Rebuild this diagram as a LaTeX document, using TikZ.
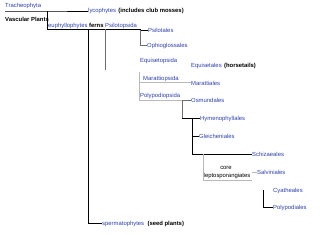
\documentclass[tikz,border=0pt]{standalone}
\usepackage{fontspec}
\setmainfont{Liberation Sans}
\definecolor{lnk}{RGB}{45,65,170}
\definecolor{lgray}{RGB}{185,185,185}
\definecolor{mgray}{RGB}{110,110,110}
\begin{document}
\begin{tikzpicture}[x=1pt,y=-1pt,
  every node/.style={inner sep=0pt, anchor=base west, font=\fontsize{5.9}{7}\selectfont},
  bl/.style={text=lnk}, bk/.style={text=black}, bb/.style={text=black, font=\fontsize{5.9}{7}\selectfont\bfseries},
  dk/.style={draw=black, line width=0.6pt},
  md/.style={draw=mgray, line width=0.6pt},
  gr/.style={draw=lgray, line width=0.6pt}]
\useasboundingbox[fill=white] (0,0) rectangle (320,234);
% texts
\node[bl] (trach) at (5,7.3) {Tracheophyta};
\node[bl] (lyco) at (88,12.3) {lycophytes};
\node[bb] (club) at ([xshift=2pt]lyco.base east) {(includes club mosses)};
\node[bb] (vasc) at (5,21.3) {Vascular Plants};
\node[bl] (euph) at (48,27.3) {euphyllophytes};
\node[bb] (ferns) at (89,27.3) {ferns};
\node[bl] (psid) at (105,27.3) {Psilotopsida};
\node[bl] (psil) at (148,32.3) {Psilotales};
\node[bl] (ophi) at (147,47.3) {Ophioglossales};
\node[bl] (equid) at (140,62.3) {Equisetopsida};
\node[bl] (equi) at (191,67.3) {Equisetales};
\node[bb] (hors) at ([xshift=2pt]equi.base east) {(horsetails)};
\node[bl] (marad) at (143,80.3) {Marattiopsida};
\node[bl] (mara) at (191,85.3) {Marattiales};
\node[bl] (polyd) at (140,97.3) {Polypodiopsida};
\node[bl] (osmu) at (191,102.3) {Osmundales};
\node[bl] (hyme) at (200,120.3) {Hymenophyllales};
\node[bl] (glei) at (199,138.3) {Gleicheniales};
\node[bl] (schi) at (252,156.3) {Schizaeales};
\node[bk, anchor=base] (core) at (226,169.3) {core};
\node[bk, anchor=base] (lept) at (227,177.3) {leptosporangiates};
\node[bl] (salv) at (257,174.3) {Salviniales};
\node[bl] (cyat) at (273,192.3) {Cyatheales};
\node[bl] (poly) at (273,209.3) {Polypodiales};
\node[bl] (sper) at (102,225.3) {spermatophytes};
\node[bb] (seed) at ([xshift=3pt]sper.base east) {(seed plants)};
% junctions
\coordinate (a0) at (5,11);
\coordinate (a1) at (47,11);
\coordinate (a2) at (47,29);
\coordinate (b0) at (88,29);
\coordinate (b1) at (88,223);
\coordinate (c0) at (105,29);
\coordinate (c1) at (105,70);
\coordinate (d0) at (140,30);
\coordinate (d1) at (140,45);
\coordinate (e0) at (139,72);
\coordinate (e1) at (139,82);
\coordinate (e2) at (139,100);
\coordinate (f0) at (182,100);
\coordinate (f1) at (182,118);
\coordinate (g0) at (192,118);
\coordinate (g1) at (192,136);
\coordinate (g2) at (192,154);
\coordinate (h0) at (203,154);
\coordinate (h1) at (203,180);
\coordinate (h2) at (252,180);
\coordinate (i0) at (263,190);
\coordinate (i1) at (263,207);
% connectors
\draw[dk] (a0) -- (a1) -- (lyco.west |- a1);
\draw[dk] (a1) -- (a2) -- (d0 |- a2) -- (d0) -- (psil.west |- d0);
\draw[md] (d0) -- (d1) -- (ophi.west |- d1);
\draw[dk] (b0) -- (b1) -- (sper.west |- b1);
\draw[md] (c0) -- (c1);
\draw[gr] (e0) -- (e2);
\draw[gr] (e1) -- (mara.west |- e1);
\draw[gr] (e2) -- (f0);
\draw[md] (f0) -- (osmu.west |- f0);
\draw[md] (f0) -- (f1);
\draw[dk] (f1) -- (hyme.west |- f1);
\draw[dk] (g0) -- (g2) -- (schi.west |- g2);
\draw[dk] (g1) -- (glei.west |- g1);
\draw[gr] (h0) -- (h1) -- (h2);
\draw[gr] (252,172) -- (salv.west |- 0,172);
\draw[dk] (i0) -- (i1) -- (poly.west |- i1);
\end{tikzpicture}
\end{document}
